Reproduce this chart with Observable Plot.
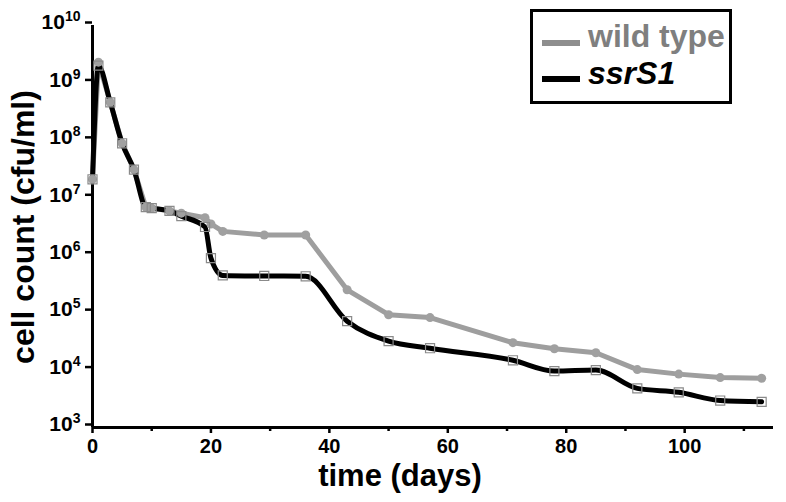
<!DOCTYPE html>
<html>
<head>
<meta charset="utf-8">
<script src="https://cdn.jsdelivr.net/npm/d3@7"></script>
<script src="https://cdn.jsdelivr.net/npm/@observablehq/plot@0.6"></script>
<style>
  html, body { margin: 0; padding: 0; background: #fff; }
  #wrap { position: relative; width: 786px; height: 502px; overflow: hidden; font-family: 'Liberation Sans', Arial, Helvetica, sans-serif; }
  #legend { position: absolute; left: 530px; top: 9px; width: 202px; height: 95px; box-sizing: border-box; border: 3px solid #000; background: #fff; }
  .sw { position: absolute; left: 9px; width: 38px; height: 6px; }
  .lt { position: absolute; left: 55px; font-size: 32px; font-weight: bold; line-height: 1; white-space: nowrap; }
</style>
</head>
<body>
<div id="wrap">
  <div id="chart"></div>
  <div id="legend">
    <div class="sw" style="top:28px;background:#8e8e8e"></div>
    <div class="lt" style="top:8px;color:#7f7f7f">wild type</div>
    <div class="sw" style="top:64px;background:#000"></div>
    <div class="lt" style="top:45px;color:#000;font-style:italic">ssrS1</div>
  </div>
</div>
<script>
// time points (days)
const days = [0, 1, 3, 5, 7, 9, 10, 13, 15, 19, 20, 22, 29, 36, 43, 50, 57, 71, 78, 85, 92, 99, 106, 113];
// cell counts (cfu/ml)
const wildType = [2.1e7, 2.3e9, 4.6e8, 8.9e7, 3.1e7, 6.9e6, 6.6e6, 5.9e6, 5.4e6, 4.5e6, 3.5e6, 2.6e6, 2.25e6, 2.25e6, 2.5e5, 9.2e4, 8.2e4, 3.0e4, 2.35e4, 2.0e4, 1.02e4, 8.5e3, 7.4e3, 7.2e3];
const ssrS1 = [2.1e7, 2.0e9, 4.6e8, 8.9e7, 3.1e7, 6.9e6, 6.6e6, 5.9e6, 4.8e6, 3.1e6, 8.9e5, 4.45e5, 4.35e5, 4.3e5, 7.1e4, 3.2e4, 2.4e4, 1.48e4, 9.6e3, 1.0e4, 4.8e3, 4.1e3, 2.95e3, 2.8e3];
// axis ticks
const yTicks = [1e3, 1e4, 1e5, 1e6, 1e7, 1e8, 1e9, 1e10];
const xMajor = [0, 20, 40, 60, 80, 100];
const xMinor = [10, 30, 50, 70, 90, 110];

const wt = days.map((d, i) => ({day: d, count: wildType[i]}));
const ss = days.map((d, i) => ({day: d, count: ssrS1[i]}));

const svg = Plot.plot({
  width: 786,
  height: 502,
  marginLeft: 92,
  marginRight: 13,
  marginTop: 25,
  marginBottom: 75,
  style: {fontFamily: "'Liberation Sans', Arial, Helvetica, sans-serif", fontWeight: "bold", background: "white", color: "black"},
  x: {domain: [0, 115]},
  y: {type: "log", domain: [1e3, 1e10]},
  marks: [
    Plot.axisX(xMajor, {tickSize: 6, tickPadding: 5, fontSize: 20, strokeWidth: 2.5, tickFormat: d => String(d), label: null}),
    Plot.axisX(xMinor, {tickSize: 4, strokeWidth: 2.5, tickFormat: () => "", label: null}),
    Plot.axisY(yTicks, {tickSize: 7, tickPadding: 5, fontSize: 21, strokeWidth: 2.5, dy: -3, tickFormat: d => String(Math.round(Math.log10(d))), label: null}),
    Plot.ruleX([0], {strokeWidth: 3}),
    Plot.ruleY([1e3], {strokeWidth: 3}),
    Plot.line(wt, {x: "day", y: "count", stroke: "#9e9e9e", strokeWidth: 5}),
    Plot.line(ss, {x: "day", y: "count", stroke: "#000", strokeWidth: 5, curve: "monotone-x"}),
    Plot.dot(wt, {x: "day", y: "count", r: 4.5, fill: "#a0a0a0"}),
    Plot.dot(ss, {x: "day", y: "count", symbol: "square", r: 5.1, stroke: "#8a8a8a", strokeWidth: 1.2, fill: "none"})
  ]
});

// superscript exponents on y tick labels
d3.select(svg).selectAll('[aria-label="y-axis tick label"] text').each(function() {
  const e = this.textContent;
  this.textContent = "";
  const t = d3.select(this);
  t.append("tspan").text("10");
  t.append("tspan").attr("dy", -8).attr("font-size", 14).text(e);
});

// axis titles
d3.select(svg).append("text")
  .attr("x", 400).attr("y", 486)
  .attr("text-anchor", "middle")
  .attr("font-size", 31).attr("font-weight", "bold").attr("fill", "#000")
  .text("time (days)");
d3.select(svg).append("text")
  .attr("transform", "translate(34,227) rotate(-90)")
  .attr("text-anchor", "middle")
  .attr("font-size", 32).attr("font-weight", "bold").attr("fill", "#000")
  .text("cell count (cfu/ml)");

document.getElementById("chart").appendChild(svg);
</script>
</body>
</html>
